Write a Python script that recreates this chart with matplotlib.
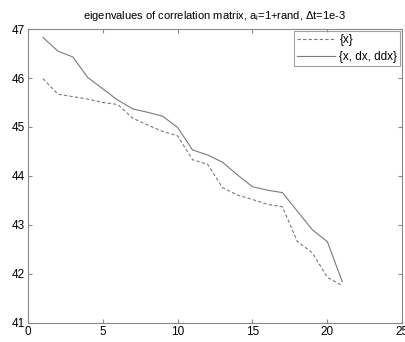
import matplotlib
matplotlib.use('Agg')
import matplotlib.pyplot as plt

# eigenvalue index
idx = list(range(1, 22))

# eigenvalues, {x} only
eig_x = [45.99, 45.67, 45.62, 45.57, 45.50, 45.46, 45.18, 45.04, 44.91, 44.82,
         44.33, 44.24, 43.76, 43.61, 43.52, 43.42, 43.37, 42.66, 42.43, 41.93,
         41.76]

# eigenvalues, {x, dx, ddx}
eig_xdx = [46.83, 46.55, 46.43, 46.01, 45.78, 45.55, 45.37, 45.30, 45.22, 44.99,
           44.53, 44.43, 44.28, 44.02, 43.78, 43.71, 43.66, 43.28, 42.90, 42.66,
           41.84]

xticks = [0, 5, 10, 15, 20, 25]
yticks = [41, 42, 43, 44, 45, 46, 47]

plt.rcParams['font.family'] = ['Liberation Sans', 'DejaVu Sans']
plt.rcParams['mathtext.fontset'] = 'custom'
plt.rcParams['mathtext.rm'] = 'Liberation Sans'

fig = plt.figure(figsize=(4.05, 3.42), dpi=100)
ax = fig.add_axes([0.069, 0.056, 0.924, 0.859])

line_col = '#7a7a7a'
ax.plot(idx, eig_x, '--', color=line_col, lw=0.8, dashes=(3, 2), label='{x}')
ax.plot(idx, eig_xdx, '-', color=line_col, lw=0.8, label='{x, dx, ddx}')

ax.set_xlim(0, 25)
ax.set_ylim(41, 47)
ax.set_xticks(xticks)
ax.set_yticks(yticks)
ax.tick_params(direction='in', length=3, top=True, right=True,
               labelsize=8.5, color='#888888', pad=2)
for s in ax.spines.values():
    s.set_color('#888888')
    s.set_linewidth(0.8)

ax.set_title(r'eigenvalues of correlation matrix, a$_{\rm i}$=1+rand, $\Delta$t=1e-3',
             fontsize=8, pad=7)

leg = ax.legend(loc='upper right', fontsize=8.5, frameon=True, fancybox=False,
                borderaxespad=0.15, handlelength=3.2, handletextpad=0.4,
                borderpad=0.25, labelspacing=0.45)
leg.get_frame().set_edgecolor('#888888')
leg.get_frame().set_linewidth(0.8)

fig.savefig('out.png', dpi=100)
